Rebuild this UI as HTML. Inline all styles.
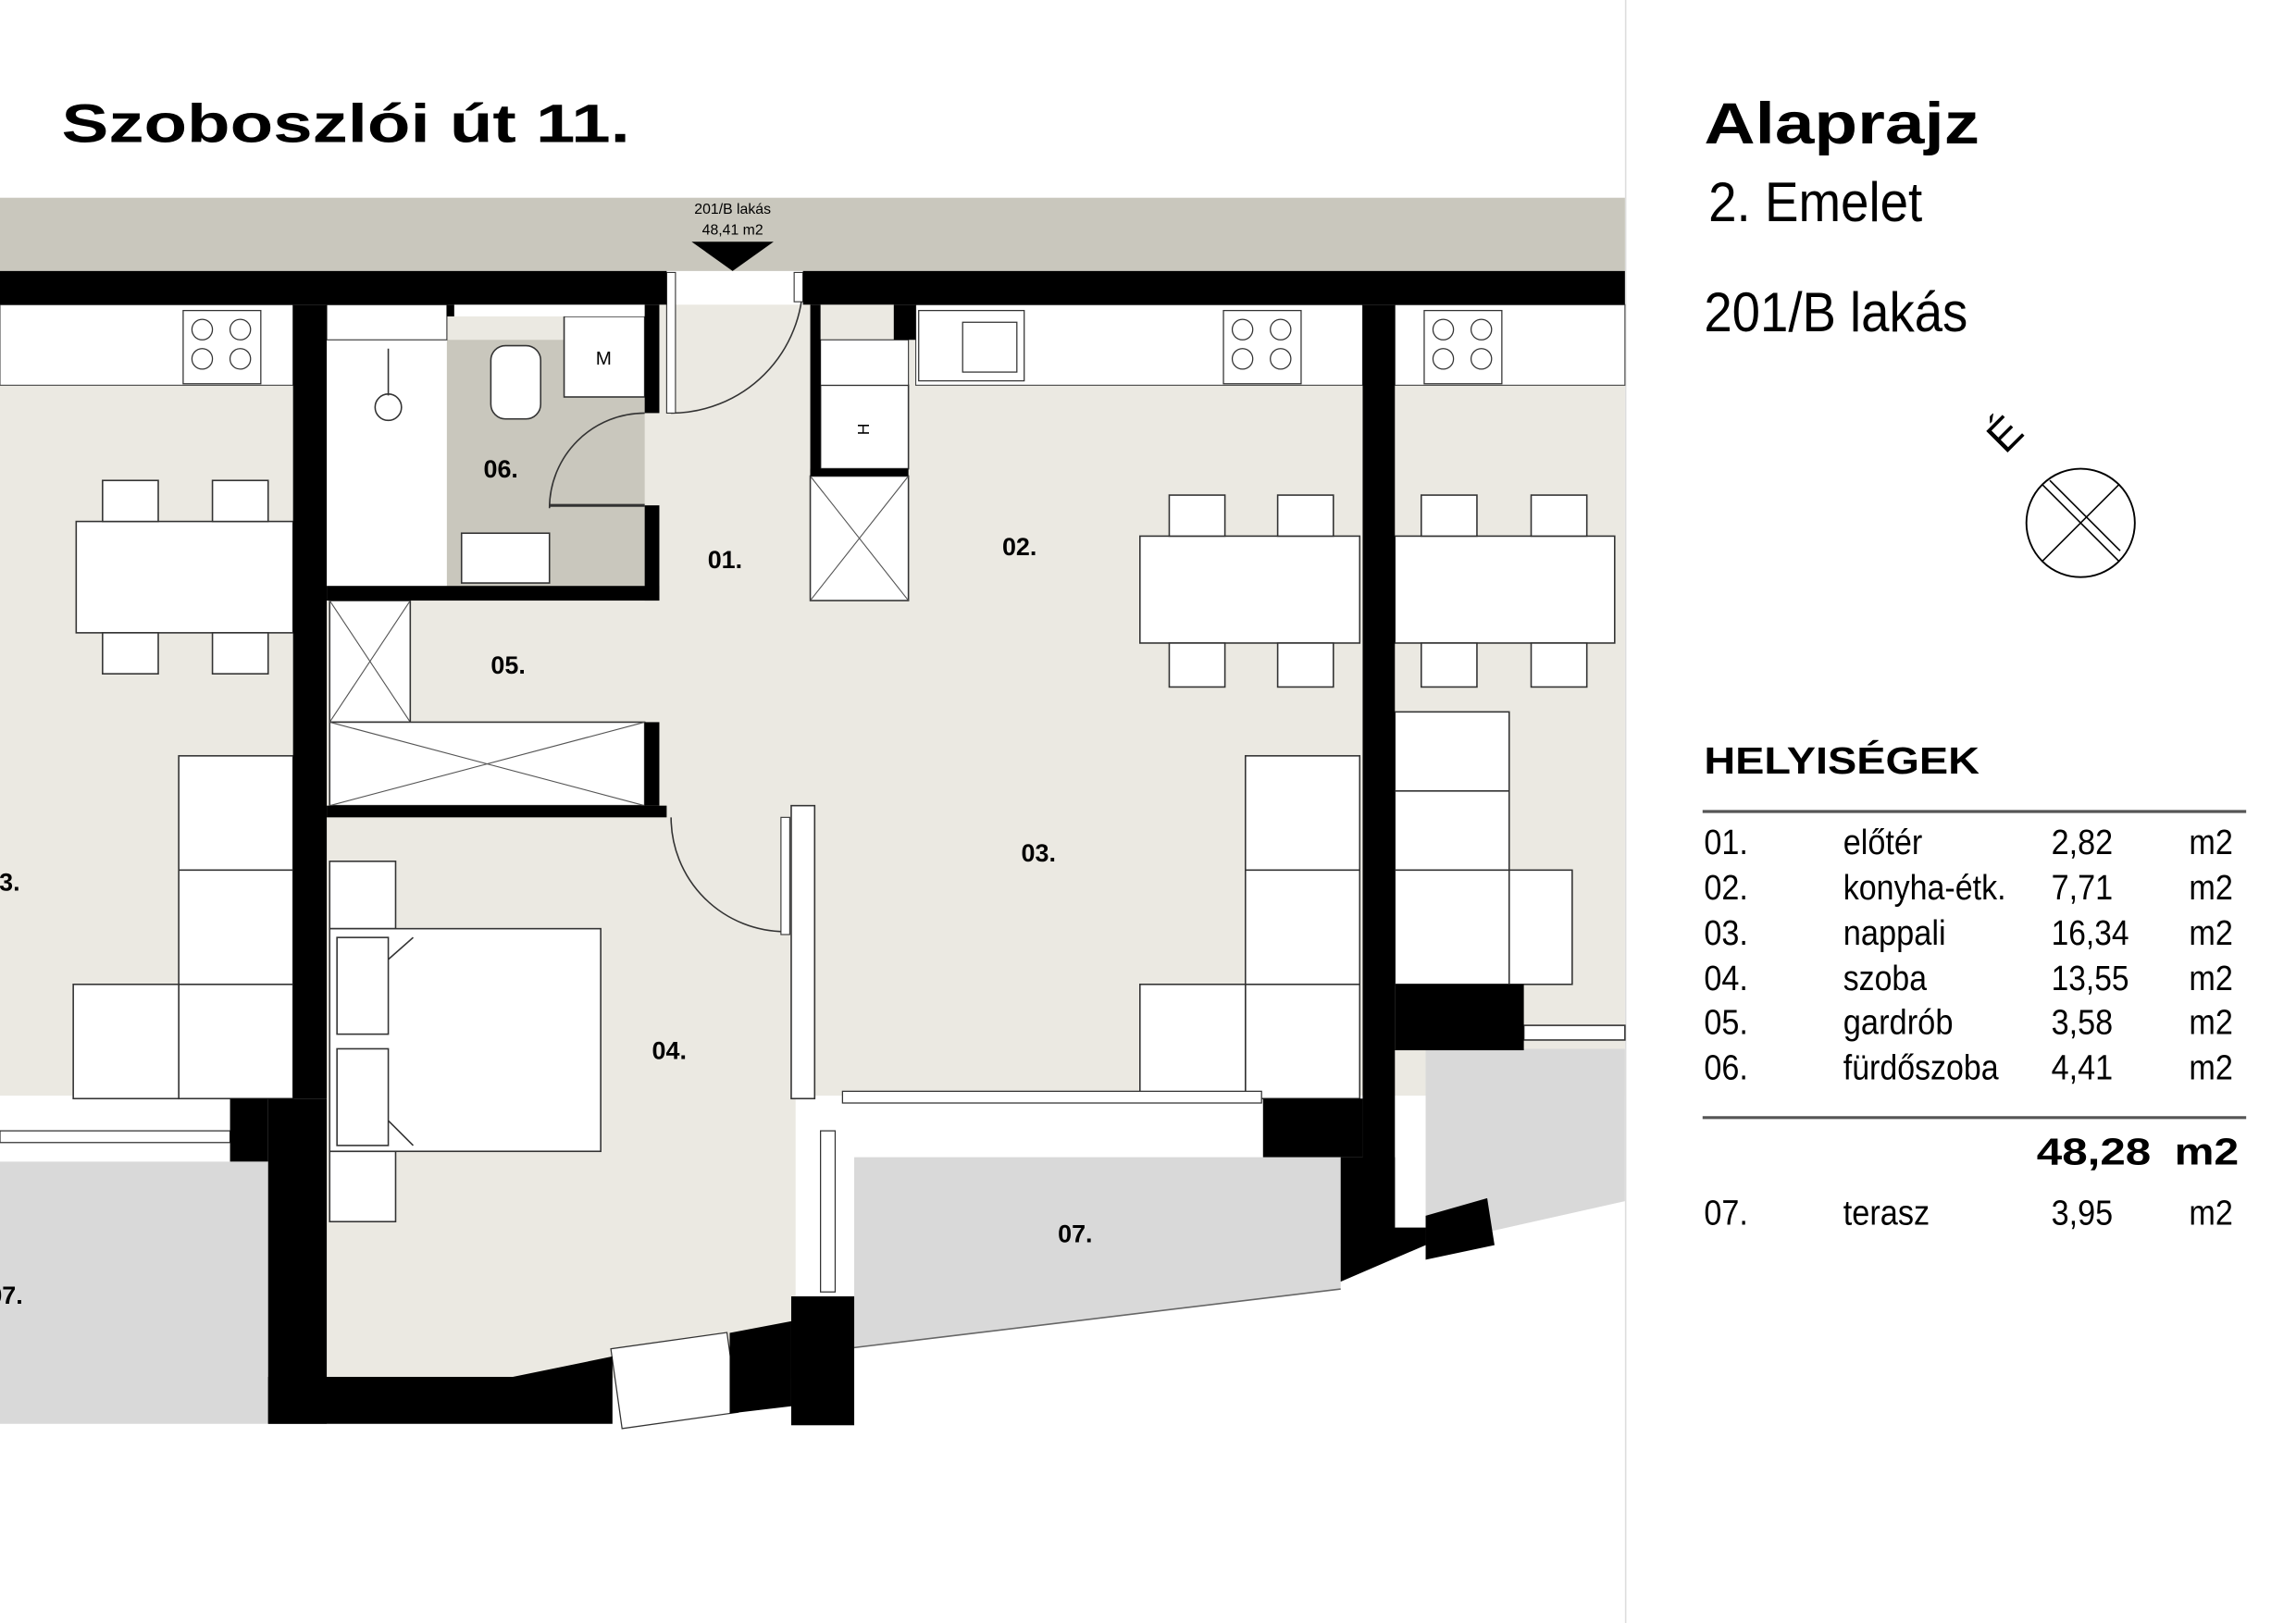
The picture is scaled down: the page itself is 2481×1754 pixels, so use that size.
<!DOCTYPE html>
<html><head><meta charset="utf-8"><style>
html,body{margin:0;padding:0;background:#fff;}
svg{display:block;}
text{font-family:"Liberation Sans",sans-serif;}
.b{font-weight:bold;}
</style></head><body>
<svg width="2481" height="1754" viewBox="0 0 1567 1108" preserveAspectRatio="none" xmlns="http://www.w3.org/2000/svg">
<rect width="1567" height="1108" fill="#fff"/>
<line x1="1109.5" y1="0" x2="1109.5" y2="1108" stroke="#ddd" stroke-width="1"/>
<text x="42" y="97" font-size="37" class="b" textLength="388" lengthAdjust="spacingAndGlyphs">Szoboszlói út 11.</text>

<!-- band -->
<rect x="0" y="135" width="1109" height="50" fill="#c9c7bd"/>
<text x="500" y="146" font-size="10" text-anchor="middle">201/B lakás</text>
<text x="500" y="160" font-size="10" text-anchor="middle">48,41 m2</text>
<polygon points="472,165 528,165 500,185" fill="#000"/>

<!-- floor -->
<rect x="0" y="208" width="1109" height="540" fill="#ebe9e2"/>
<rect x="223" y="558" width="320" height="383" fill="#ebe9e2"/>
<!-- terraces -->
<polygon points="0,793 183,793 183,972 0,972" fill="#d9d9d9"/>
<polygon points="583,790 915,790 915,880 583,920" fill="#d9d9d9"/>
<polygon points="973,716 1109,716 1109,820 1020,840 973,845" fill="#d9d9d9"/>
<line x1="583" y1="920" x2="915" y2="880" stroke="#666" stroke-width="1"/>

<!-- counters -->
<rect x="0" y="208" width="200" height="55" fill="#fff" stroke="#444" stroke-width="0.7"/>
<rect x="625" y="208" width="305" height="55" fill="#fff" stroke="#444" stroke-width="0.7"/>
<rect x="952" y="208" width="157" height="55" fill="#fff" stroke="#444" stroke-width="0.7"/>
<g fill="#fff" stroke="#333" stroke-width="0.8">
<rect x="125" y="212" width="53" height="50"/><rect x="835" y="212" width="53" height="50"/><rect x="972" y="212" width="53" height="50"/>
<rect x="627" y="212" width="72" height="48"/><rect x="657" y="220" width="37" height="34"/>
</g>
<g fill="none" stroke="#333" stroke-width="0.8">
<circle cx="138" cy="225" r="7"/><circle cx="164" cy="225" r="7"/><circle cx="138" cy="245" r="7"/><circle cx="164" cy="245" r="7"/>
<circle cx="848" cy="225" r="7"/><circle cx="874" cy="225" r="7"/><circle cx="848" cy="245" r="7"/><circle cx="874" cy="245" r="7"/>
<circle cx="985" cy="225" r="7"/><circle cx="1011" cy="225" r="7"/><circle cx="985" cy="245" r="7"/><circle cx="1011" cy="245" r="7"/>
</g>

<!-- bathroom -->
<rect x="223" y="232" width="82" height="168" fill="#fff"/>
<rect x="305" y="232" width="135" height="168" fill="#c9c7bd"/>
<rect x="385" y="216" width="55" height="55" fill="#fff" stroke="#333"/>
<text x="412" y="249" font-size="13" text-anchor="middle">M</text>
<rect x="335" y="236" width="34" height="50" rx="10" fill="#fff" stroke="#333"/>
<rect x="315" y="364" width="60" height="34" fill="#fff" stroke="#333"/>
<circle cx="265" cy="278" r="9" fill="#fff" stroke="#333"/>
<line x1="265" y1="238" x2="265" y2="270" stroke="#333"/>
<rect x="223" y="208" width="82" height="24" fill="#fff" stroke="#333" stroke-width="0.7"/>
<rect x="310" y="208" width="130" height="8" fill="#fff"/>
<path d="M440,282 A65,65 0 0 0 375,347" fill="none" stroke="#333"/>
<line x1="375" y1="345" x2="440" y2="345" stroke="#333" stroke-width="2"/>

<!-- entrance door -->
<path d="M548,192 A90,90 0 0 1 458,282" fill="none" stroke="#333"/>
<rect x="455" y="186" width="6" height="96" fill="#fff" stroke="#333" stroke-width="0.7"/>
<rect x="542" y="186" width="6" height="20" fill="#fff" stroke="#333" stroke-width="0.7"/>

<!-- kitchen left unit -->
<rect x="560" y="263" width="60" height="57" fill="#fff" stroke="#333"/>
<text x="590" y="296" font-size="11" text-anchor="middle" transform="rotate(-90 590 293)">H</text>
<rect x="553" y="325" width="67" height="85" fill="#fff" stroke="#333"/>
<path d="M553,325 L620,410 M620,325 L553,410" stroke="#555" stroke-width="0.7"/>
<rect x="560" y="232" width="60" height="31" fill="#fff" stroke="#333" stroke-width="0.7"/>

<!-- wardrobe -->
<rect x="225" y="410" width="55" height="83" fill="#fff" stroke="#333"/>
<path d="M225,410 L280,493 M280,410 L225,493" stroke="#555" stroke-width="0.7"/>
<rect x="225" y="493" width="215" height="57" fill="#fff" stroke="#333"/>
<path d="M225,493 L440,550 M440,493 L225,550" stroke="#555" stroke-width="0.7"/>

<!-- bedroom door & partition -->
<path d="M458,558 A78,78 0 0 0 536,636" fill="none" stroke="#333"/>
<rect x="533" y="558" width="6" height="80" fill="#fff" stroke="#333" stroke-width="0.7"/>
<rect x="540" y="550" width="16" height="200" fill="#fff" stroke="#333"/>

<!-- bed -->
<rect x="225" y="588" width="45" height="46" fill="#fff" stroke="#333"/>
<rect x="225" y="786" width="45" height="48" fill="#fff" stroke="#333"/>
<rect x="225" y="634" width="185" height="152" fill="#fff" stroke="#333"/>
<rect x="230" y="640" width="35" height="66" fill="#fff" stroke="#333"/>
<rect x="230" y="716" width="35" height="66" fill="#fff" stroke="#333"/>
<line x1="265" y1="655" x2="282" y2="640" stroke="#333"/>
<line x1="265" y1="765" x2="282" y2="782" stroke="#333"/>

<!-- dining tables -->
<g fill="#fff" stroke="#333">
<rect x="52" y="356" width="148" height="76"/>
<rect x="70" y="328" width="38" height="28"/><rect x="145" y="328" width="38" height="28"/>
<rect x="70" y="432" width="38" height="28"/><rect x="145" y="432" width="38" height="28"/>
<rect x="778" y="366" width="150" height="73"/><rect x="952" y="366" width="150" height="73"/>
<rect x="798" y="338" width="38" height="28"/><rect x="872" y="338" width="38" height="28"/>
<rect x="798" y="439" width="38" height="30"/><rect x="872" y="439" width="38" height="30"/>
<rect x="970" y="338" width="38" height="28"/><rect x="1045" y="338" width="38" height="28"/>
<rect x="970" y="439" width="38" height="30"/><rect x="1045" y="439" width="38" height="30"/>
<rect x="122" y="516" width="78" height="234"/><line x1="122" y1="594" x2="200" y2="594"/><line x1="122" y1="672" x2="200" y2="672"/>
<rect x="50" y="672" width="72" height="78"/>
<rect x="850" y="516" width="78" height="234"/><line x1="850" y1="594" x2="928" y2="594"/><line x1="850" y1="672" x2="928" y2="672"/>
<rect x="778" y="672" width="72" height="78"/>
<rect x="952" y="486" width="78" height="186"/><line x1="952" y1="540" x2="1030" y2="540"/><line x1="952" y1="594" x2="1030" y2="594"/>
<rect x="1030" y="594" width="43" height="78"/>
<rect x="1040" y="700" width="69" height="10"/>
</g>

<!-- window sills -->
<g fill="#fff" stroke="#333" stroke-width="0.8">
<rect x="0" y="772" width="157" height="8"/>
<rect x="575" y="745" width="286" height="8"/>
<rect x="560" y="772" width="10" height="110"/>
<rect x="420" y="915" width="80" height="55" transform="rotate(-8 460 940)"/>
</g>

<!-- walls -->
<g fill="#000">
<rect x="0" y="185" width="455" height="23"/>
<rect x="548" y="185" width="561" height="23"/>
<rect x="200" y="208" width="23" height="542"/>
<rect x="183" y="750" width="40" height="222"/>
<rect x="157" y="750" width="26" height="43"/>
<rect x="305" y="208" width="5" height="8"/>
<rect x="223" y="400" width="227" height="10"/>
<rect x="440" y="208" width="10" height="74"/>
<rect x="440" y="345" width="10" height="65"/>
<rect x="553" y="208" width="7" height="117"/>
<rect x="553" y="320" width="67" height="5"/>
<rect x="610" y="208" width="15" height="24"/>
<rect x="223" y="550" width="232" height="8"/>
<rect x="440" y="493" width="10" height="57"/>
<rect x="540" y="885" width="43" height="88"/>
<rect x="930" y="208" width="22" height="630"/>
<rect x="862" y="750" width="68" height="40"/>
<rect x="952" y="672" width="88" height="45"/>
<polygon points="915,790 952,790 952,838 973,838 973,690 1000,716 973,716 973,850 915,875"/>
<polygon points="973,830 1015,818 1020,850 973,860"/>
<polygon points="223,940 350,940 418,926 418,972 183,972 183,940"/>
<polygon points="498,910 540,902 540,960 498,965"/>
</g>

<!-- room labels -->
<g class="b" font-size="17">
<text x="330" y="326">06.</text><text x="483" y="388">01.</text><text x="684" y="379">02.</text>
<text x="335" y="460">05.</text><text x="697" y="588">03.</text><text x="445" y="723">04.</text>
<text x="722" y="848">07.</text><text x="-10" y="608">03.</text><text x="-8" y="890">07.</text>
</g>

<!-- right panel -->
<text x="1163" y="98" font-size="40" class="b" textLength="188" lengthAdjust="spacingAndGlyphs">Alaprajz</text>
<text x="1166" y="151" font-size="38" textLength="146" lengthAdjust="spacingAndGlyphs">2. Emelet</text>
<text x="1163" y="226" font-size="38" textLength="180" lengthAdjust="spacingAndGlyphs">201/B lakás</text>
<text x="1372" y="305" font-size="30" transform="rotate(-45 1372 300)" text-anchor="middle">É</text>
<circle cx="1420" cy="357" r="37" fill="none" stroke="#000" stroke-width="1.2"/>
<line x1="1394" y1="331" x2="1446" y2="383" stroke="#000"/>
<line x1="1446" y1="331" x2="1394" y2="383" stroke="#000"/>
<line x1="1399" y1="328" x2="1447" y2="376" stroke="#000"/>
<text x="1163" y="528" font-size="26" class="b" textLength="188" lengthAdjust="spacingAndGlyphs">HELYISÉGEK</text>
<line x1="1162" y1="554" x2="1533" y2="554" stroke="#555" stroke-width="2"/>
<g font-size="24">
<text x="1163" y="583" textLength="30" lengthAdjust="spacingAndGlyphs">01.</text><text x="1258" y="583" textLength="54" lengthAdjust="spacingAndGlyphs">előtér</text><text x="1400" y="583" textLength="42" lengthAdjust="spacingAndGlyphs">2,82</text><text x="1494" y="583" textLength="30" lengthAdjust="spacingAndGlyphs">m2</text>
<text x="1163" y="614" textLength="30" lengthAdjust="spacingAndGlyphs">02.</text><text x="1258" y="614" textLength="111" lengthAdjust="spacingAndGlyphs">konyha-étk.</text><text x="1400" y="614" textLength="42" lengthAdjust="spacingAndGlyphs">7,71</text><text x="1494" y="614" textLength="30" lengthAdjust="spacingAndGlyphs">m2</text>
<text x="1163" y="645" textLength="30" lengthAdjust="spacingAndGlyphs">03.</text><text x="1258" y="645" textLength="70" lengthAdjust="spacingAndGlyphs">nappali</text><text x="1400" y="645" textLength="53" lengthAdjust="spacingAndGlyphs">16,34</text><text x="1494" y="645" textLength="30" lengthAdjust="spacingAndGlyphs">m2</text>
<text x="1163" y="676" textLength="30" lengthAdjust="spacingAndGlyphs">04.</text><text x="1258" y="676" textLength="57" lengthAdjust="spacingAndGlyphs">szoba</text><text x="1400" y="676" textLength="53" lengthAdjust="spacingAndGlyphs">13,55</text><text x="1494" y="676" textLength="30" lengthAdjust="spacingAndGlyphs">m2</text>
<text x="1163" y="706" textLength="30" lengthAdjust="spacingAndGlyphs">05.</text><text x="1258" y="706" textLength="75" lengthAdjust="spacingAndGlyphs">gardrób</text><text x="1400" y="706" textLength="42" lengthAdjust="spacingAndGlyphs">3,58</text><text x="1494" y="706" textLength="30" lengthAdjust="spacingAndGlyphs">m2</text>
<text x="1163" y="737" textLength="30" lengthAdjust="spacingAndGlyphs">06.</text><text x="1258" y="737" textLength="106" lengthAdjust="spacingAndGlyphs">fürdőszoba</text><text x="1400" y="737" textLength="42" lengthAdjust="spacingAndGlyphs">4,41</text><text x="1494" y="737" textLength="30" lengthAdjust="spacingAndGlyphs">m2</text>
<text x="1163" y="836" textLength="30" lengthAdjust="spacingAndGlyphs">07.</text><text x="1258" y="836" textLength="59" lengthAdjust="spacingAndGlyphs">terasz</text><text x="1400" y="836" textLength="42" lengthAdjust="spacingAndGlyphs">3,95</text><text x="1494" y="836" textLength="30" lengthAdjust="spacingAndGlyphs">m2</text>
</g>
<line x1="1162" y1="763" x2="1533" y2="763" stroke="#555" stroke-width="2"/>
<text x="1390" y="795" font-size="26" class="b" textLength="78" lengthAdjust="spacingAndGlyphs">48,28</text><text x="1484" y="795" font-size="26" class="b" textLength="44" lengthAdjust="spacingAndGlyphs">m2</text>
</svg>
</body></html>
